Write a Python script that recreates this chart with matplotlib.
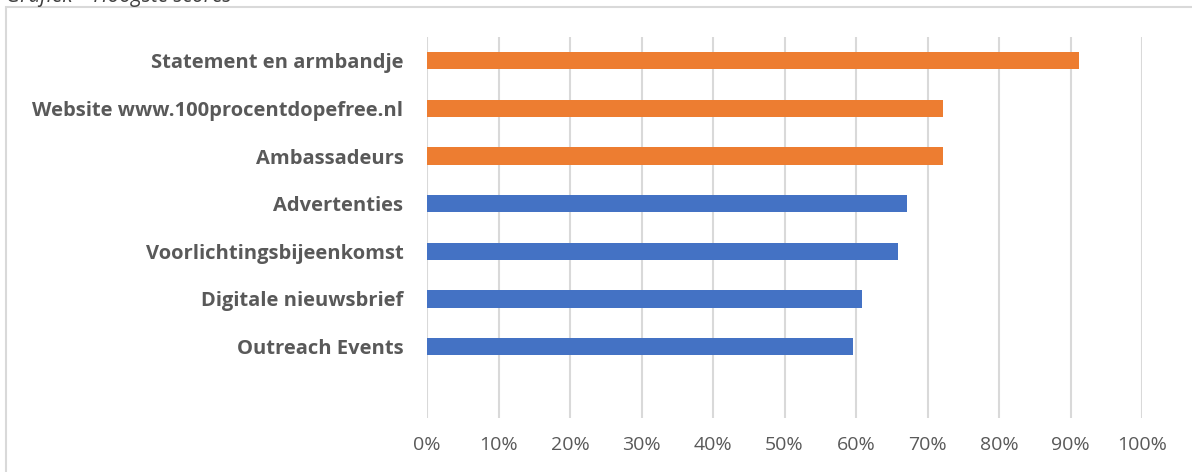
import matplotlib
matplotlib.use("Agg")
import matplotlib.pyplot as plt
from matplotlib.patches import Rectangle
from matplotlib.ticker import PercentFormatter

# data (top to bottom as in the chart)
categories = ['Statement en armbandje', 'Website www.100procentdopefree.nl', 'Ambassadeurs',
              'Advertenties', 'Voorlichtingsbijeenkomst', 'Digitale nieuwsbrief', 'Outreach Events']
scores = [0.912, 0.722, 0.722, 0.671, 0.659, 0.608, 0.596]
colors = ['#ED7D31', '#ED7D31', '#ED7D31', '#4472C4', '#4472C4', '#4472C4', '#4472C4']
ticks = [0, 0.1, 0.2, 0.3, 0.4, 0.5, 0.6, 0.7, 0.8, 0.9, 1.0]

plt.rcParams['font.family'] = ['Open Sans', 'DejaVu Sans']

fig = plt.figure(figsize=(11.92, 4.72), dpi=100)

# chart frame (partly cut off at right/bottom)
fig.patches.append(Rectangle((6 / 1192, -0.1), 1.2, 1 - 7 / 472 + 0.1, transform=fig.transFigure,
                             fill=False, edgecolor='#D9D9D9', linewidth=1.5))
# clipped caption at the top
fig.text(6 / 1192, 1 + 3 / 472, 'Grafiek – Hoogste scores', fontsize=15, style='italic',
         color='#404040', va='center', ha='left')

ax = fig.add_axes([427 / 1192, 1 - 418 / 472, 715 / 1192, 381 / 472])
y = list(range(len(categories)))
ax.barh(y, scores, height=0.36, color=colors, zorder=3)

ax.set_xlim(0, 1.0)
ax.set_ylim(len(categories) + 0.5, -0.5)
ax.set_xticks(ticks)
ax.xaxis.set_major_formatter(PercentFormatter(1.0, decimals=0))
ax.set_yticks(y)
ax.set_yticklabels(categories, fontsize=14.5, fontweight='bold', color='#595959')
ax.tick_params(axis='y', length=0, pad=17)
ax.tick_params(axis='x', length=0, pad=13, labelsize=14, labelcolor='#595959')
ax.grid(axis='x', color='#D9D9D9', linewidth=1.5, zorder=0)
for s in ax.spines.values():
    s.set_visible(False)

fig.savefig('out.png', dpi=100)
